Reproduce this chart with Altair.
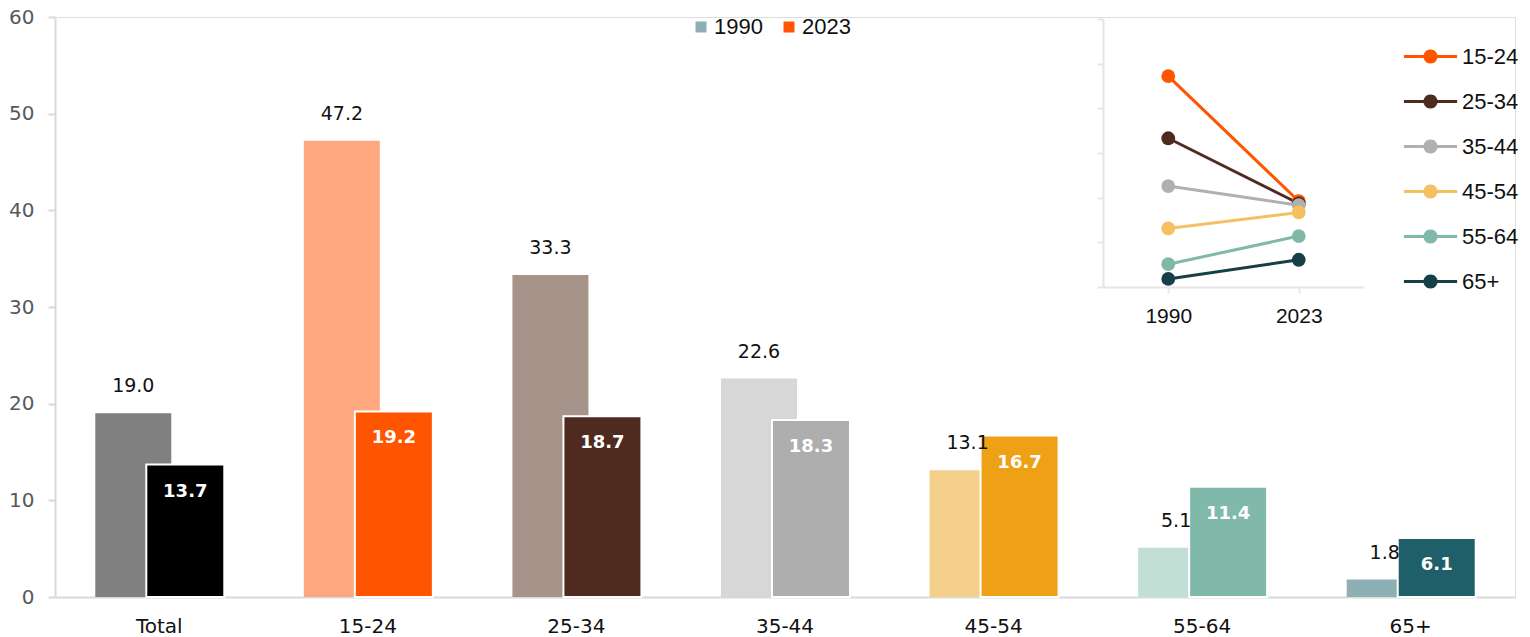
import math
import altair as alt
import pandas as pd

# --- data -------------------------------------------------------------
groups = ["Total", "15-24", "25-34", "35-44", "45-54", "55-64", "65+"]
rate_1990 = [19.0, 47.2, 33.3, 22.6, 13.1, 5.1, 1.8]
rate_2023 = [13.7, 19.2, 18.7, 18.3, 16.7, 11.4, 6.1]
years = ["1990", "2023"]

# --- styling ----------------------------------------------------------
colors_1990 = ["#808080", "#FFA880", "#A6948B", "#D7D7D7", "#F5D08B", "#C2DFD6", "#8EAFB4"]
colors_2023 = ["#000000", "#FF5500", "#4F2B1F", "#AEAEAE", "#EFA116", "#80B9AA", "#1E5F6A"]
year_colors = ["#8EAFB4", "#FF5500"]
line_colors = ["#FF5500", "#4F2B1F", "#B0B0B0", "#F5C062", "#80B9AA", "#163F47"]
FONT = "DejaVu Sans"
LEGEND_FONT = "Liberation Sans"

df = pd.DataFrame({
    "group": groups * 2,
    "year": ["1990"] * len(groups) + ["2023"] * len(groups),
    "value": rate_1990 + rate_2023,
})
df["key"] = df["group"] + " " + df["year"]
df["label"] = df["value"].map(lambda v: f"{v:.1f}")

key_domain = [f"{g} 1990" for g in groups] + [f"{g} 2023" for g in groups]
key_scale = alt.Scale(domain=key_domain, range=colors_1990 + colors_2023)

x_main = alt.X(
    "group:N", sort=groups, title=None,
    scale=alt.Scale(paddingInner=0, paddingOuter=0),
    axis=alt.Axis(labelAngle=0, labelFont=FONT, labelFontSize=20, labelColor="#111111",
                  labelPadding=19, ticks=False, domainColor="#D9D9D9", domainWidth=2),
)
y_main = alt.Y(
    "value:Q", title=None,
    scale=alt.Scale(domain=[0, 60], nice=False),
    axis=alt.Axis(values=[0, 10, 20, 30, 40, 50, 60], grid=False, labelFont=FONT,
                  labelFontSize=20, labelColor="#595959", labelPadding=14,
                  tickSize=7, tickColor="#D9D9D9", tickWidth=2,
                  domainColor="#D9D9D9", domainWidth=2),
)

base = alt.Chart(df)
b1990 = base.transform_filter("datum.year == '1990'")
b2023 = base.transform_filter("datum.year == '2023'")

bars_1990 = b1990.mark_bar(width=76, xOffset=-26).encode(
    x=x_main, y=y_main, color=alt.Color("key:N", scale=key_scale, legend=None)
)
bars_2023 = b2023.mark_bar(width=78, xOffset=26, stroke="white", strokeWidth=2).encode(
    x=x_main, y=y_main, color=alt.Color("key:N", scale=key_scale, legend=None)
)
text_1990 = b1990.mark_text(
    xOffset=-26, dy=-27, font=FONT, fontSize=19, color="#111111", baseline="middle"
).encode(x=x_main, y=y_main, text="label:N")
text_2023 = b2023.mark_text(
    xOffset=26, dy=27, font=FONT, fontSize=18, fontWeight="bold", color="white",
    baseline="middle"
).encode(x=x_main, y=y_main, text="label:N")

# year legend at the top (its layer draws no marks, the legend comes from the scale)
year_legend = alt.Chart(pd.DataFrame({"year": years})).transform_filter("false").mark_square(
    opacity=1
).encode(
    fill=alt.Fill(
        "year:N",
        scale=alt.Scale(domain=years, range=year_colors),
        legend=alt.Legend(
            title=None, orient="none", direction="horizontal", legendX=635, legendY=-1,
            symbolType="square", symbolSize=121, symbolStrokeWidth=0, symbolOpacity=1,
            labelFont=LEGEND_FONT, labelFontSize=22, labelColor="#111111", labelOffset=2,
            columnPadding=15,
        ),
    )
)

main = alt.layer(bars_1990, bars_2023, text_1990, text_2023, year_legend)

# --- inset slope chart ------------------------------------------------
age_groups = groups[1:]
slope = pd.DataFrame({
    "group": age_groups * 2,
    "year": ["1990"] * len(age_groups) + ["2023"] * len(age_groups),
    "value": rate_1990[1:] + rate_2023[1:],
})

x_in = alt.X(
    "year:N", title=None,
    scale=alt.Scale(type="point", domain=years, range=[1048, 1309], padding=0.5),
    axis=alt.Axis(orient="bottom", offset=-310, labelAngle=0, labelFont=LEGEND_FONT,
                  labelFontSize=21, labelColor="#111111", labelPadding=12,
                  tickSize=6, tickColor="#E6E6E6", tickWidth=2,
                  domainColor="#E6E6E6", domainWidth=2),
)
y_in = alt.Y(
    "value:Q", title=None,
    scale=alt.Scale(domain=[0, 60], range=[270, 2], nice=False),
    axis=alt.Axis(orient="left", offset=-1048, values=[0, 10, 20, 30, 40, 50, 60],
                  labels=False, grid=False, tickSize=6, tickColor="#E6E6E6", tickWidth=2,
                  domainColor="#E6E6E6", domainWidth=2),
)
group_scale = alt.Scale(domain=age_groups, range=line_colors)


def ring(radius, sides=24):
    """Closed polygon approximating a circle, in symbol units."""
    pts = [
        (radius * math.cos(2 * math.pi * k / sides), radius * math.sin(2 * math.pi * k / sides))
        for k in range(sides)
    ]
    return "M" + "L".join(f"{x:.3f},{y:.3f}" for x, y in pts) + "Z"


# legend symbol: a line through a dot; the dot is built from stroked rings
legend_path = "M-1.9,0H1.9" + "".join(ring(r) for r in (0.1, 0.2, 0.3, 0.4))

inset_lines = alt.Chart(slope).mark_line(strokeWidth=3).encode(
    x=x_in, y=y_in, detail="group:N",
    stroke=alt.Stroke(
        "group:N", scale=group_scale, sort=age_groups,
        legend=alt.Legend(
            title=None, orient="none", legendX=1360, legendY=24,
            symbolType=legend_path, symbolSize=784, symbolStrokeWidth=3,
            symbolFillColor="transparent",
            labelFont=LEGEND_FONT, labelFontSize=22, labelColor="#111111", labelOffset=16,
            rowPadding=17,
        ),
    ),
)
inset_points = alt.Chart(slope).mark_circle(size=190, opacity=1).encode(
    x=x_in, y=y_in,
    color=alt.Color("group:N", scale=group_scale, legend=None),
)
inset = alt.layer(inset_lines, inset_points)

chart = (
    alt.layer(main, inset)
    .resolve_scale(x="independent", y="independent", color="independent", fill="independent")
    .resolve_axis(x="independent", y="independent")
    .properties(
        width=1460, height=580,
        padding={"left": 55, "top": 17, "right": 15, "bottom": 40},
        autosize=alt.AutoSizeParams(type="none"),
    )
    .configure_view(stroke=None)
    .configure(background="white")
)

chart.save("out.html", embed_options={"renderer": "svg", "actions": False})
